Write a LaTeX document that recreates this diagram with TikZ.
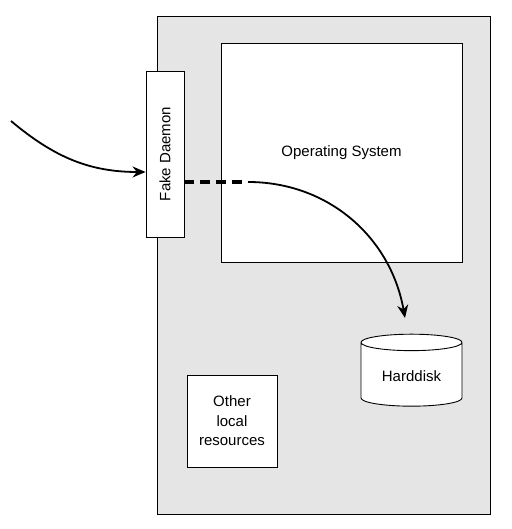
\documentclass[tikz,border=0pt]{standalone}
\usepackage{fontspec}
\setmainfont{Liberation Sans}
\usetikzlibrary{arrows.meta,shapes.geometric}

\tikzset{
    box/.style={draw, line width=0.9pt, fill=white, inner sep=0pt},
    lbl/.style={font=\fontsize{15}{19.5}\selectfont, align=center},
    flow/.style={line width=1.8pt, -{Stealth[length=13pt,width=11pt]}}
}

\begin{document}
\begin{tikzpicture}[x=1pt,y=1pt]
\useasboundingbox (0,0) rectangle (511,529);

% the host machine
\draw[line width=0.9pt, fill=black!10] (157,15) rectangle (490,513);

% boxes inside
\node[box, lbl, minimum width=241pt, minimum height=219pt] (os) at (341.5,376.5) {Operating System};
\node[box, lbl, minimum width=38pt, minimum height=166pt] (fake) at (165,375) {};
\node[lbl, rotate=90] (fakelbl) at (fake.center) {Fake Daemon};
\node[box, lbl, minimum width=90pt, minimum height=92pt] (other) at (232,108) {Other\\local\\resources};

% harddisk
\node[cylinder, shape border rotate=90, draw, line width=0.9pt, fill=white, lbl,
      minimum width=101pt, minimum height=72pt, aspect=0.25] (disk) at (411.5,153) {Harddisk};

% connections
\coordinate (src) at (11,408);
\coordinate (tap) at (248,347);
\coordinate (diskin) at (405,211);
\draw[flow] (src) to[out=-40, in=180] (fake.west |- 0,357);
\draw[line width=3.5pt, dash pattern=on 10pt off 6pt] (fake.east |- tap) -- (tap);
\draw[flow] (tap) to[out=0, in=100] (diskin);

\end{tikzpicture}
\end{document}
